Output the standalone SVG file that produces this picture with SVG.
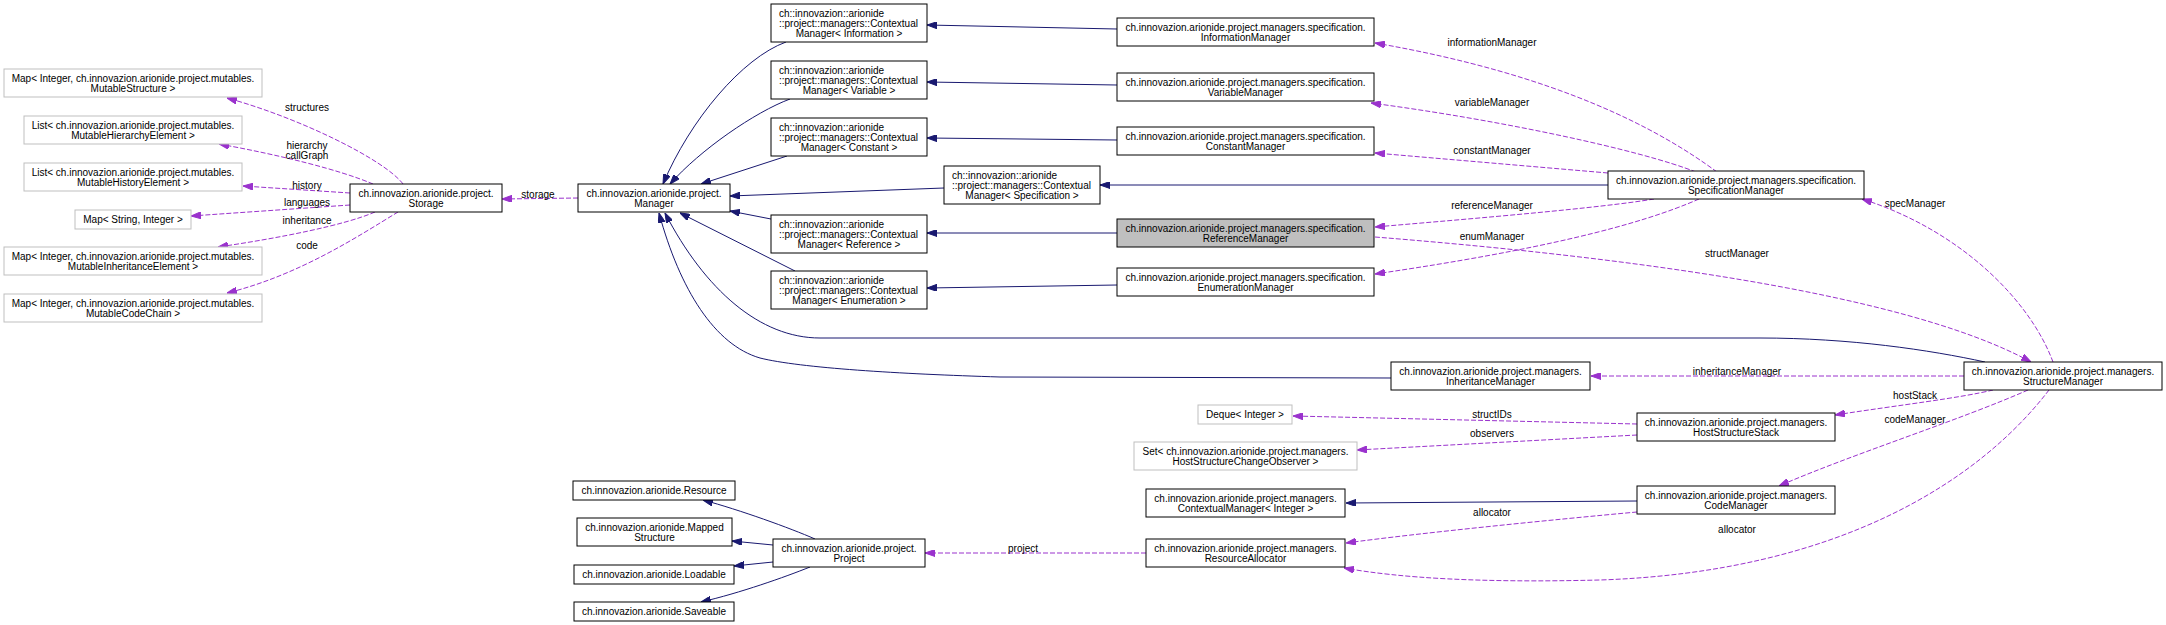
<svg xmlns="http://www.w3.org/2000/svg" width="2166" height="625" viewBox="0 0 2166 625">
<style>
text{font-family:"Liberation Sans",Arial,Helvetica,sans-serif;font-size:10px;fill:#000}
.c{text-anchor:middle}
.l{text-anchor:start}
.n{fill:#fff;stroke:#000;stroke-width:1}
.g{fill:#fff;stroke:#bfbfbf;stroke-width:1}
.h{fill:#bfbfbf;stroke:#000;stroke-width:1}
.e{fill:none;stroke:#191970;stroke-width:1;marker-end:url(#ab)}
.d{fill:none;stroke:#9a32cd;stroke-width:1;stroke-dasharray:5,2;marker-end:url(#ap)}
</style>
<defs>
<marker id="ab" viewBox="0 0 10 7" refX="10" refY="3.5" markerWidth="10" markerHeight="7" markerUnits="userSpaceOnUse" orient="auto"><path d="M0,0 L10,3.5 L0,7 z" fill="#191970" stroke="#191970" stroke-width="1"/></marker>
<marker id="ap" viewBox="0 0 10 7" refX="10" refY="3.5" markerWidth="10" markerHeight="7" markerUnits="userSpaceOnUse" orient="auto"><path d="M0,0 L10,3.5 L0,7 z" fill="#9a32cd" stroke="#9a32cd" stroke-width="1"/></marker>
</defs>
<rect width="2166" height="625" fill="#fff"/>

<g id="edges">
<path class="e" d="M786,42 C742,58 690,120 663,184"/>
<path class="e" d="M790,99 C755,112 700,150 670,184"/>
<path class="e" d="M787,156 L701,184"/>
<path class="e" d="M944,188 L730,196"/>
<path class="e" d="M771,219 L730,211"/>
<path class="e" d="M795,271 L680,213"/>
<path class="e" d="M1985,362 C1930,350 1850,338 1760,338 L820,338 C760,338 705,290 665,213"/>
<path class="e" d="M1391,378 L1000,377 C900,374 800,368 760,358 C715,345 680,290 659,213"/>
<path class="e" d="M1117,29 L927,25"/>
<path class="e" d="M1117,85 L927,82"/>
<path class="e" d="M1117,140 L927,138"/>
<path class="e" d="M1608,185 L1100,185"/>
<path class="e" d="M1117,233 L927,233"/>
<path class="e" d="M1117,285 L927,288"/>
<path class="e" d="M1637,501 L1346,503"/>
<path class="e" d="M815,539 C790,528 740,510 703,500"/>
<path class="e" d="M773,545 L732,541"/>
<path class="e" d="M773,562 L734,566"/>
<path class="e" d="M810,567 C785,577 740,593 701,602"/>

<path class="d" d="M403,184 C385,160 300,118 227,98"/>
<path class="d" d="M373,184 C340,170 280,155 219,144"/>
<path class="d" d="M350,193 L243,186"/>
<path class="d" d="M350,205 L191,216"/>
<path class="d" d="M375,212 C345,225 280,238 218,247"/>
<path class="d" d="M398,212 C360,235 300,275 227,293"/>
<path class="d" d="M578,198 L502,199"/>
<path class="d" d="M1717,172 C1660,130 1560,75 1375,43"/>
<path class="d" d="M1696,172 C1640,150 1500,120 1371,103"/>
<path class="d" d="M1608,173 L1375,153"/>
<path class="d" d="M1654,199 C1600,208 1480,218 1375,227"/>
<path class="d" d="M1699,199 C1640,225 1540,250 1375,274"/>
<path class="d" d="M1375,237 C1600,255 1900,290 2031,362"/>
<path class="d" d="M2053,362 C2030,300 1960,230 1862,199"/>
<path class="d" d="M1964,376 L1591,376"/>
<path class="d" d="M1993,390 C1960,398 1900,405 1835,415"/>
<path class="d" d="M2028,390 C1960,420 1850,455 1779,486"/>
<path class="d" d="M2049,390 C1980,480 1840,572 1600,580 C1480,583 1400,578 1344,568"/>
<path class="d" d="M1637,424 L1293,416"/>
<path class="d" d="M1637,435 L1357,450"/>
<path class="d" d="M1637,512 C1550,520 1420,533 1346,543"/>
<path class="d" d="M1146,553 L925,553"/>

<text class="c" x="307" y="110.5">structures</text>
<text class="c" x="307" y="148.5">hierarchy</text>
<text class="c" x="307" y="158.5">callGraph</text>
<text class="c" x="307" y="188.5">history</text>
<text class="c" x="307" y="205.5">languages</text>
<text class="c" x="307" y="223.5">inheritance</text>
<text class="c" x="307" y="248.5">code</text>
<text class="c" x="538" y="197.5">storage</text>
<text class="c" x="1023" y="551.5">project</text>
<text class="c" x="1492" y="45.5">informationManager</text>
<text class="c" x="1492" y="105.5">variableManager</text>
<text class="c" x="1492" y="153.5">constantManager</text>
<text class="c" x="1492" y="208.5">referenceManager</text>
<text class="c" x="1492" y="239.5">enumManager</text>
<text class="c" x="1737" y="256.5">structManager</text>
<text class="c" x="1915" y="206.5">specManager</text>
<text class="c" x="1737" y="374.5">inheritanceManager</text>
<text class="c" x="1915" y="398.5">hostStack</text>
<text class="c" x="1915" y="422.5">codeManager</text>
<text class="c" x="1492" y="417.5">structIDs</text>
<text class="c" x="1492" y="436.5">observers</text>
<text class="c" x="1492" y="515.5">allocator</text>
<text class="c" x="1737" y="532.5">allocator</text>
</g>

<g id="n_mapStructure"><rect class="g" x="4" y="69" width="258" height="28"/><text class="c" x="133" y="82">Map&lt; Integer, ch.innovazion.arionide.project.mutables.</text><text class="c" x="133" y="92">MutableStructure &gt;</text></g>
<g id="n_listHierarchy"><rect class="g" x="24" y="116" width="218" height="28"/><text class="c" x="133" y="129">List&lt; ch.innovazion.arionide.project.mutables.</text><text class="c" x="133" y="139">MutableHierarchyElement &gt;</text></g>
<g id="n_listHistory"><rect class="g" x="24" y="163" width="218" height="28"/><text class="c" x="133" y="176">List&lt; ch.innovazion.arionide.project.mutables.</text><text class="c" x="133" y="186">MutableHistoryElement &gt;</text></g>
<g id="n_mapStringInteger"><rect class="g" x="75" y="210" width="116" height="19"/><text class="c" x="133" y="223">Map&lt; String, Integer &gt;</text></g>
<g id="n_mapInheritance"><rect class="g" x="4" y="247" width="258" height="28"/><text class="c" x="133" y="260">Map&lt; Integer, ch.innovazion.arionide.project.mutables.</text><text class="c" x="133" y="270">MutableInheritanceElement &gt;</text></g>
<g id="n_mapCodeChain"><rect class="g" x="4" y="294" width="258" height="28"/><text class="c" x="133" y="307">Map&lt; Integer, ch.innovazion.arionide.project.mutables.</text><text class="c" x="133" y="317">MutableCodeChain &gt;</text></g>
<g id="n_storage"><rect class="n" x="350" y="184" width="152" height="28"/><text class="c" x="426" y="197">ch.innovazion.arionide.project.</text><text class="c" x="426" y="207">Storage</text></g>
<g id="n_manager"><rect class="n" x="578" y="184" width="152" height="28"/><text class="c" x="654" y="197">ch.innovazion.arionide.project.</text><text class="c" x="654" y="207">Manager</text></g>

<g id="n_cmInformation"><rect class="n" x="771" y="4" width="156" height="38"/><text class="l" x="779" y="17">ch::innovazion::arionide</text><text class="l" x="779" y="27">::project::managers::Contextual</text><text class="c" x="849" y="37">Manager&lt; Information &gt;</text></g>
<g id="n_cmVariable"><rect class="n" x="771" y="61" width="156" height="38"/><text class="l" x="779" y="74">ch::innovazion::arionide</text><text class="l" x="779" y="84">::project::managers::Contextual</text><text class="c" x="849" y="94">Manager&lt; Variable &gt;</text></g>
<g id="n_cmConstant"><rect class="n" x="771" y="118" width="156" height="38"/><text class="l" x="779" y="131">ch::innovazion::arionide</text><text class="l" x="779" y="141">::project::managers::Contextual</text><text class="c" x="849" y="151">Manager&lt; Constant &gt;</text></g>
<g id="n_cmSpecification"><rect class="n" x="944" y="166" width="156" height="38"/><text class="l" x="952" y="179">ch::innovazion::arionide</text><text class="l" x="952" y="189">::project::managers::Contextual</text><text class="c" x="1022" y="199">Manager&lt; Specification &gt;</text></g>
<g id="n_cmReference"><rect class="n" x="771" y="215" width="156" height="38"/><text class="l" x="779" y="228">ch::innovazion::arionide</text><text class="l" x="779" y="238">::project::managers::Contextual</text><text class="c" x="849" y="248">Manager&lt; Reference &gt;</text></g>
<g id="n_cmEnumeration"><rect class="n" x="771" y="271" width="156" height="38"/><text class="l" x="779" y="284">ch::innovazion::arionide</text><text class="l" x="779" y="294">::project::managers::Contextual</text><text class="c" x="849" y="304">Manager&lt; Enumeration &gt;</text></g>

<g id="n_informationManager"><rect class="n" x="1117" y="18" width="257" height="28"/><text class="c" x="1245.5" y="31">ch.innovazion.arionide.project.managers.specification.</text><text class="c" x="1245.5" y="41">InformationManager</text></g>
<g id="n_variableManager"><rect class="n" x="1117" y="73" width="257" height="28"/><text class="c" x="1245.5" y="86">ch.innovazion.arionide.project.managers.specification.</text><text class="c" x="1245.5" y="96">VariableManager</text></g>
<g id="n_constantManager"><rect class="n" x="1117" y="127" width="257" height="28"/><text class="c" x="1245.5" y="140">ch.innovazion.arionide.project.managers.specification.</text><text class="c" x="1245.5" y="150">ConstantManager</text></g>
<g id="n_referenceManager"><rect class="h" x="1117" y="219" width="257" height="28"/><text class="c" x="1245.5" y="232">ch.innovazion.arionide.project.managers.specification.</text><text class="c" x="1245.5" y="242">ReferenceManager</text></g>
<g id="n_enumerationManager"><rect class="n" x="1117" y="268" width="257" height="28"/><text class="c" x="1245.5" y="281">ch.innovazion.arionide.project.managers.specification.</text><text class="c" x="1245.5" y="291">EnumerationManager</text></g>
<g id="n_specificationManager"><rect class="n" x="1608" y="171" width="256" height="28"/><text class="c" x="1736" y="184">ch.innovazion.arionide.project.managers.specification.</text><text class="c" x="1736" y="194">SpecificationManager</text></g>

<g id="n_inheritanceManager"><rect class="n" x="1391" y="362" width="199" height="28"/><text class="c" x="1490.5" y="375">ch.innovazion.arionide.project.managers.</text><text class="c" x="1490.5" y="385">InheritanceManager</text></g>
<g id="n_structureManager"><rect class="n" x="1964" y="362" width="198" height="28"/><text class="c" x="2063" y="375">ch.innovazion.arionide.project.managers.</text><text class="c" x="2063" y="385">StructureManager</text></g>
<g id="n_deque"><rect class="g" x="1198" y="405" width="94" height="19"/><text class="c" x="1245" y="418">Deque&lt; Integer &gt;</text></g>
<g id="n_set"><rect class="g" x="1134" y="442" width="223" height="28"/><text class="c" x="1245.5" y="455">Set&lt; ch.innovazion.arionide.project.managers.</text><text class="c" x="1245.5" y="465">HostStructureChangeObserver &gt;</text></g>
<g id="n_hostStructureStack"><rect class="n" x="1637" y="413" width="198" height="28"/><text class="c" x="1736" y="426">ch.innovazion.arionide.project.managers.</text><text class="c" x="1736" y="436">HostStructureStack</text></g>
<g id="n_cmInteger"><rect class="n" x="1146" y="489" width="199" height="28"/><text class="c" x="1245.5" y="502">ch.innovazion.arionide.project.managers.</text><text class="c" x="1245.5" y="512">ContextualManager&lt; Integer &gt;</text></g>
<g id="n_codeManager"><rect class="n" x="1637" y="486" width="198" height="28"/><text class="c" x="1736" y="499">ch.innovazion.arionide.project.managers.</text><text class="c" x="1736" y="509">CodeManager</text></g>
<g id="n_resourceAllocator"><rect class="n" x="1146" y="539" width="199" height="28"/><text class="c" x="1245.5" y="552">ch.innovazion.arionide.project.managers.</text><text class="c" x="1245.5" y="562">ResourceAllocator</text></g>

<g id="n_resource"><rect class="n" x="573" y="481" width="162" height="19"/><text class="c" x="654" y="494">ch.innovazion.arionide.Resource</text></g>
<g id="n_mappedStructure"><rect class="n" x="577" y="518" width="155" height="28"/><text class="c" x="654.5" y="531">ch.innovazion.arionide.Mapped</text><text class="c" x="654.5" y="541">Structure</text></g>
<g id="n_loadable"><rect class="n" x="574" y="565" width="160" height="19"/><text class="c" x="654" y="578">ch.innovazion.arionide.Loadable</text></g>
<g id="n_saveable"><rect class="n" x="574" y="602" width="160" height="19"/><text class="c" x="654" y="615">ch.innovazion.arionide.Saveable</text></g>
<g id="n_project"><rect class="n" x="773" y="539" width="152" height="28"/><text class="c" x="849" y="552">ch.innovazion.arionide.project.</text><text class="c" x="849" y="562">Project</text></g>
</svg>
